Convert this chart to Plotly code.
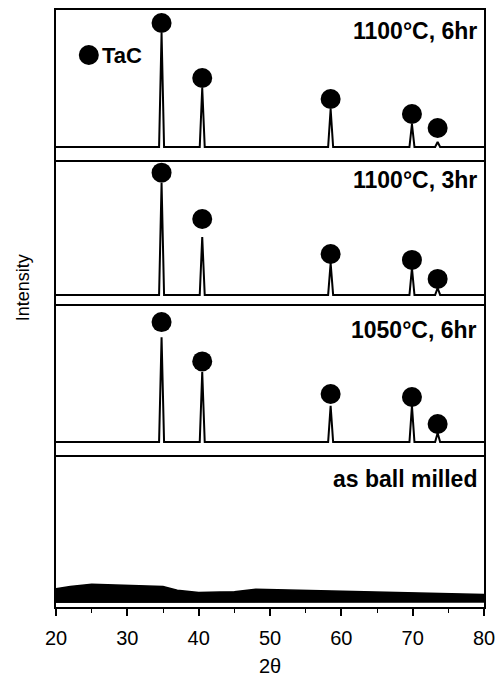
import plotly.graph_objects as go
from plotly.subplots import make_subplots

# ---- data ----
panel_labels = ["1100°C, 6hr", "1100°C, 3hr", "1050°C, 6hr", "as ball milled"]
peak_pos = [34.8, 40.5, 58.5, 69.9, 73.5]          # 2θ of TaC peaks
baselines = [8.7, 6.3, 8.6]                        # background level, panels 1-3
peak_tops = [
    [84.7, 48.0, 34.0, 24.0, 12.0],
    [84.0, 46.5, 28.5, 25.0, 11.1],
    [78.0, 55.0, 32.5, 32.5, 14.6],
]
marker_y = [
    [91.3, 54.7, 40.7, 30.7, 21.3],
    [91.2, 59.0, 34.7, 30.6, 17.4],
    [88.0, 62.0, 40.4, 38.4, 20.5],
]
# as-ball-milled: amorphous noisy band (envelope)
bm_x = [20, 22, 25, 28, 30, 33, 35, 37, 40, 43, 45, 48, 50, 55, 60, 65, 70, 75, 80]
bm_upper = [12.0, 13.5, 15.0, 14.6, 14.4, 14.0, 13.5, 11.0, 9.6, 9.8, 10.0, 11.6, 11.4, 11.2, 10.4, 10.2, 9.6, 9.0, 8.3]
bm_lower = [3.0, 3.0, 2.8, 2.8, 2.8, 3.0, 3.0, 3.0, 3.2, 3.2, 3.2, 3.2, 3.2, 3.2, 3.2, 3.2, 3.2, 3.2, 3.2]
peak_halfwidth = 0.35

FONT = "Arial, Liberation Sans, Helvetica, sans-serif"
NARROW = "Liberation Sans Narrow, Arial Narrow, Arial, sans-serif"

fig = make_subplots(rows=4, cols=1, shared_xaxes=True, vertical_spacing=0,
                    row_heights=[150, 144, 151, 152])

for i in range(3):
    b = baselines[i]
    xs = [20]
    ys = [b]
    for p, h in zip(peak_pos, peak_tops[i]):
        xs += [p - peak_halfwidth, p, p + peak_halfwidth]
        ys += [b, h, b]
    xs.append(80)
    ys.append(b)
    fig.add_trace(go.Scatter(x=xs, y=ys, mode="lines",
                             line=dict(color="black", width=2),
                             showlegend=False, hoverinfo="skip"), row=i + 1, col=1)
    fig.add_trace(go.Scatter(x=peak_pos, y=marker_y[i], mode="markers",
                             marker=dict(color="black", size=20),
                             showlegend=False), row=i + 1, col=1)

# ball milled band
fig.add_trace(go.Scatter(x=bm_x, y=bm_lower, mode="lines",
                         line=dict(color="black", width=1),
                         showlegend=False, hoverinfo="skip"), row=4, col=1)
fig.add_trace(go.Scatter(x=bm_x, y=bm_upper, mode="lines", fill="tonexty",
                         fillcolor="black", line=dict(color="black", width=1.5),
                         showlegend=False, hoverinfo="skip"), row=4, col=1)

# TaC legend in first panel
fig.add_trace(go.Scatter(x=[24.6], y=[70], mode="markers",
                         marker=dict(color="black", size=20),
                         showlegend=False), row=1, col=1)
fig.add_annotation(x=26.2, y=70, xref="x", yref="y", text="<b>TaC</b>",
                   showarrow=False, xanchor="left", yanchor="middle",
                   font=dict(family=FONT, size=22, color="black"))

label_y = [0.86, 0.86, 0.83, 0.845]
for i, lab in enumerate(panel_labels):
    fig.add_annotation(x=79.3, y=label_y[i], xref="x" if i == 0 else f"x{i+1}",
                       yref=("y domain" if i == 0 else f"y{i+1} domain"),
                       text=f"<b>{lab}</b>", showarrow=False,
                       xanchor="right", yanchor="middle",
                       font=dict(family=FONT, size=23, color="black"))

for r in range(1, 5):
    fig.update_xaxes(range=[20, 80], showline=True, linecolor="black", linewidth=1.5,
                     mirror=(r == 1), showgrid=False, zeroline=False, row=r, col=1,
                     showticklabels=(r == 4), ticks=("outside" if r == 4 else ""),
                     dtick=10, tick0=20, automargin=False)
    fig.update_yaxes(range=[0, 100], showline=True, linecolor="black", linewidth=1.5,
                     mirror=True, ticks="", showticklabels=False, showgrid=False,
                     zeroline=False, row=r, col=1, automargin=False)

fig.update_xaxes(ticks="outside", ticklen=7, tickwidth=1.5, tickcolor="black",
                 ticklabelstandoff=5,
                 minor=dict(dtick=5, ticks="outside", ticklen=4, tickwidth=1.2,
                            tickcolor="black"),
                 title=dict(text="2θ", font=dict(family=FONT, size=20, color="black"),
                            standoff=12),
                 tickfont=dict(family=FONT, size=20, color="black"), row=4, col=1)

fig.add_annotation(x=-0.078, y=0.535, xref="paper", yref="paper", text="Intensity",
                   textangle=-90, showarrow=False, xanchor="center", yanchor="middle",
                   font=dict(family=NARROW, size=18, color="black"))

fig.update_layout(width=502, height=677, paper_bgcolor="white", plot_bgcolor="white",
                  margin=dict(l=56, r=18, t=10, b=70), showlegend=False)

fig.write_html("out.html")
